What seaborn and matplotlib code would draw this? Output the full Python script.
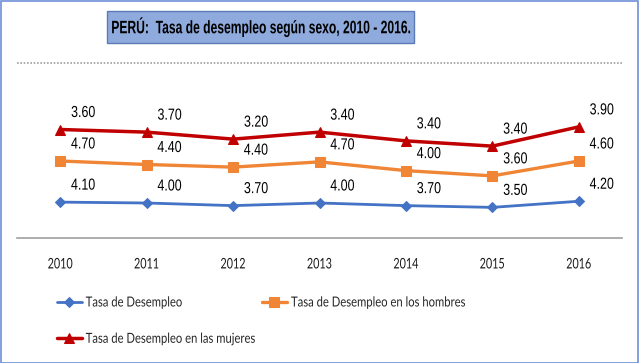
import numpy as np
import pandas as pd
import matplotlib
matplotlib.use('Agg')
import matplotlib.pyplot as plt
import seaborn as sns
from matplotlib.patches import Rectangle
from matplotlib import patheffects
from matplotlib.transforms import Affine2D

# Data (values are stacked in the original line chart)
years = ['2010', '2011', '2012', '2013', '2014', '2015', '2016']
tasa_total = [4.10, 4.00, 3.70, 4.00, 3.70, 3.50, 4.20]
tasa_hombres = [4.70, 4.40, 4.40, 4.70, 4.00, 3.60, 4.60]
tasa_mujeres = [3.60, 3.70, 3.20, 3.40, 3.40, 3.40, 3.90]

series_names = ['Tasa de Desempleo',
                'Tasa de Desempleo en los hombres',
                'Tasa de Desempleo en las mujeres']
title = 'PERÚ:  Tasa de desempleo según sexo, 2010 - 2016.'


class Squeeze(patheffects.AbstractPathEffect):
    """Narrow the glyphs horizontally (no condensed fonts installed)."""
    def __init__(self, sx, anchor='center'):
        super().__init__()
        self.sx = sx
        self.anchor = anchor

    def draw_path(self, renderer, gc, tpath, affine, rgbFace=None):
        ext = tpath.get_extents(affine)
        x0 = ext.x0 if self.anchor == 'left' else (ext.x0 + ext.x1) / 2
        tr = affine + Affine2D().translate(-x0, 0).scale(self.sx, 1).translate(x0, 0)
        renderer.draw_path(gc, tpath, tr, rgbFace)


# build long dataframe with stacked positions
stack1 = np.array(tasa_total)
stack2 = stack1 + np.array(tasa_hombres)
stack3 = stack2 + np.array(tasa_mujeres)
df = pd.DataFrame({
    'x': list(range(len(years))) * 3,
    'y': np.concatenate([stack1, stack2, stack3]),
    'label': tasa_total + tasa_hombres + tasa_mujeres,
    'serie': np.repeat(series_names, len(years)),
})

sns.set_style('white')
plt.rcParams['font.family'] = ['Liberation Sans', 'DejaVu Sans']
calibri_like = ['Lato', 'DejaVu Sans']

colors = {series_names[0]: '#4472C4',
          series_names[1]: '#F08535',
          series_names[2]: '#C00000'}
markers = {series_names[0]: 'D', series_names[1]: 's', series_names[2]: '^'}
msizes = {series_names[0]: 5, series_names[1]: 7, series_names[2]: 7}
lwidths = {series_names[0]: 2.0, series_names[1]: 2.4, series_names[2]: 2.5}

W, H = 639, 363
fig = plt.figure(figsize=(W / 100, H / 100), dpi=100)
ax = fig.add_axes([17 / W, (H - 238) / H, 605 / W, 175 / H])

for name in series_names:
    sub = df[df['serie'] == name]
    sns.lineplot(data=sub, x='x', y='y', ax=ax, color=colors[name],
                 marker=markers[name], markersize=msizes[name],
                 markeredgecolor=colors[name], linewidth=lwidths[name],
                 label=name, legend=False)
    for xi, yi, lab in zip(sub['x'], sub['y'], sub['label']):
        ax.annotate(f'{lab:.2f}', (xi, yi), xytext=(23, 17),
                    textcoords='offset pixels', ha='center', va='center',
                    fontsize=11.5, color='black',
                    path_effects=[Squeeze(0.78)])

ax.set_xlim(-0.5, len(years) - 0.5)
ax.set_ylim(0, 20)
ax.set_yticks([])
ax.set_xticks(range(len(years)))
ax.set_xticklabels(years, fontsize=10.5, family=calibri_like, color='#1a1a1a')
for t in ax.get_xticklabels():
    t.set_path_effects([Squeeze(0.74)])
ax.tick_params(axis='x', length=0, pad=14)
ax.set_xlabel('')
ax.set_ylabel('')
for s in ['left', 'right', 'top']:
    ax.spines[s].set_visible(False)
ax.spines['bottom'].set_color('#A0A0A0')
ax.spines['bottom'].set_linewidth(1.2)
ax.axhline(20, color='#A0A0A0', linestyle=(0, (1, 1)), linewidth=1.2, clip_on=False)

# legend: row-major order blue, orange / red
hl = {l.get_label(): l for l in ax.get_lines() if l.get_label() in series_names}
order = [series_names[0], series_names[2], series_names[1]]
leg = fig.legend([hl[n] for n in order], order, ncol=2, frameon=False,
                 loc='upper left', bbox_to_anchor=(44 / W, 1 - 284 / H),
                 prop={'family': calibri_like, 'size': 10},
                 handlelength=1.8, handletextpad=0.3, columnspacing=-2.4,
                 labelspacing=1.75)
for t in leg.get_texts():
    t.set_path_effects([Squeeze(0.81, anchor='left')])

# title box
fig.patches.append(Rectangle((107 / W, 1 - 43 / H), 307 / W, 32 / H,
                             transform=fig.transFigure, facecolor='#8FAADC',
                             edgecolor='#5B7BB8', linewidth=1))
fig.text(261 / W, 1 - 27 / H, title, ha='center', va='center',
         fontsize=13, fontweight='bold', color='black',
         path_effects=[Squeeze(0.67)])

# outer border
fig.patches.append(Rectangle((0.5 / W, 0.5 / H), 1 - 1.5 / W, 1 - 1.5 / H,
                             transform=fig.transFigure, facecolor='none',
                             edgecolor='#6F8FD8', linewidth=1.2))

fig.savefig('out.png', dpi=100)
